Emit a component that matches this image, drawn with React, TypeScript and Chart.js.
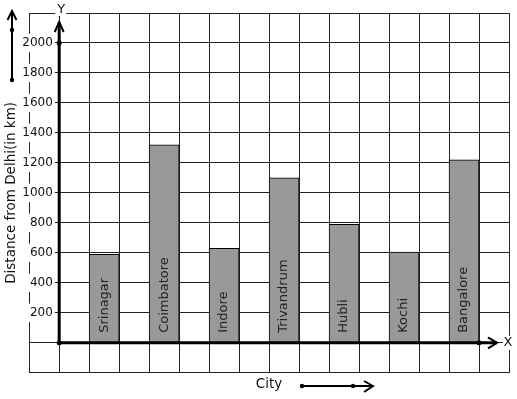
import React, { useEffect, useRef } from 'react';
import { Chart, registerables } from 'chart.js';

Chart.register(...registerables);

const cities = ['Srinagar', 'Coimbatore', 'Indore', 'Trivandrum', 'Hubli', 'Kochi', 'Bangalore'];
const distances = [590, 1320, 630, 1100, 790, 605, 1220];
const yTickLabels = [200, 400, 600, 800, 1000, 1200, 1400, 1600, 1800, 2000];
const yTitle = 'Distance from Delhi(in km)';
const xTitle = 'City';
const yAxisName = 'Y';
const xAxisName = 'X';

const FONT = "'DejaVu Sans', sans-serif";
const INK = '#111';

function dot(ctx: CanvasRenderingContext2D, x: number, y: number, r = 2.5) {
  ctx.beginPath();
  ctx.arc(x, y, r, 0, Math.PI * 2);
  ctx.fill();
}

function chevron(ctx: CanvasRenderingContext2D, pts: number[][]) {
  ctx.beginPath();
  ctx.moveTo(pts[0][0], pts[0][1]);
  ctx.lineTo(pts[1][0], pts[1][1]);
  ctx.lineTo(pts[2][0], pts[2][1]);
  ctx.stroke();
}

export default function App() {
  const ref = useRef<HTMLCanvasElement>(null);

  useEffect(() => {
    const canvas = ref.current;
    if (!canvas) return;

    const decorations = {
      id: 'decorations',
      afterDatasetsDraw(chart: any) {
        const ctx = chart.ctx as CanvasRenderingContext2D;
        const meta = chart.getDatasetMeta(0);
        const y0 = chart.scales.y.getPixelForValue(0);
        ctx.save();
        ctx.fillStyle = '#222';
        ctx.font = `13px ${FONT}`;
        ctx.textAlign = 'left';
        ctx.textBaseline = 'middle';
        meta.data.forEach((bar: any, i: number) => {
          ctx.save();
          ctx.translate(bar.x, y0 - 10);
          ctx.rotate(-Math.PI / 2);
          ctx.fillText(cities[i], 0, 0);
          ctx.restore();
        });
        ctx.restore();
      },
      afterDraw(chart: any) {
        const ctx = chart.ctx as CanvasRenderingContext2D;
        const xs = chart.scales.x;
        const ys = chart.scales.y;
        const ox = xs.getPixelForValue(0);
        const oy = ys.getPixelForValue(0);
        const yTop = ys.getPixelForValue(2140);
        const xEnd = xs.getPixelForValue(14.6);
        ctx.save();
        ctx.strokeStyle = '#000';
        ctx.fillStyle = '#000';
        ctx.lineCap = 'butt';
        // axis lines
        ctx.lineWidth = 3;
        ctx.beginPath();
        ctx.moveTo(ox, oy);
        ctx.lineTo(ox, yTop);
        ctx.moveTo(ox, oy);
        ctx.lineTo(xEnd, oy);
        ctx.stroke();
        ctx.lineWidth = 2;
        chevron(ctx, [[ox - 4.5, yTop + 10], [ox, yTop], [ox + 4.5, yTop + 10]]);
        chevron(ctx, [[xEnd - 9, oy - 5.5], [xEnd, oy], [xEnd - 9, oy + 5.5]]);
        dot(ctx, ox, oy);
        dot(ctx, ox, ys.getPixelForValue(2000));
        dot(ctx, xs.getPixelForValue(14), oy);

        // axis names
        ctx.font = `13px ${FONT}`;
        ctx.textAlign = 'center';
        ctx.textBaseline = 'middle';
        ctx.fillStyle = '#fff';
        ctx.fillRect(ox - 4, 3, 11, 13);
        ctx.fillRect(xEnd + 6, oy - 7, 11, 14);
        ctx.fillStyle = INK;
        ctx.fillText(yAxisName, ox + 2, 10);
        ctx.fillText(xAxisName, xEnd + 11, oy);

        // side arrow (left)
        ctx.strokeStyle = '#000';
        ctx.fillStyle = '#000';
        ctx.lineWidth = 2;
        ctx.beginPath();
        ctx.moveTo(12, 80);
        ctx.lineTo(12, 12);
        ctx.stroke();
        chevron(ctx, [[7.5, 20], [12, 11], [16.5, 20]]);
        dot(ctx, 12, 30, 2.2);
        dot(ctx, 12, 80, 2.2);

        // bottom arrow
        ctx.beginPath();
        ctx.moveTo(302, 386);
        ctx.lineTo(372, 386);
        ctx.stroke();
        chevron(ctx, [[364, 381], [373, 386], [364, 392]]);
        dot(ctx, 302, 386, 2.2);
        dot(ctx, 353, 386, 2.2);
        ctx.restore();
      },
    };

    const chart = new Chart(canvas, {
      type: 'bar',
      data: {
        datasets: [
          {
            data: distances.map((d, i) => ({ x: 1.5 + 2 * i, y: d })),
            xAxisID: 'x',
            yAxisID: 'y',
            backgroundColor: '#999999',
            borderColor: '#000',
            borderWidth: 1,
            barThickness: 30,
          } as any,
        ],
      },
      options: {
        animation: false,
        responsive: false,
        devicePixelRatio: 1,
        layout: { padding: { left: 0, top: 13, right: 8, bottom: 0 } },
        plugins: { legend: { display: false }, tooltip: { enabled: false } },
        scales: {
          x: {
            type: 'linear',
            position: { y: 0 } as any,
            min: -1,
            max: 15,
            offset: false,
            ticks: { display: false, stepSize: 1 },
            grid: { color: '#222', drawTicks: false, offset: false },
            border: { display: false },
          },
          y: {
            type: 'linear',
            // labels sit just left of the x = 0 axis line, leaving room for the tick dash
            position: { x: -0.21 } as any,
            min: -200,
            max: 2200,
            ticks: {
              stepSize: 200,
              padding: 0,
              color: INK,
              font: { family: FONT, size: 12 },
              callback: (v: any) => (yTickLabels.includes(Number(v)) ? String(v) : ''),
              showLabelBackdrop: (c: any) => yTickLabels.includes(Number(c.tick && c.tick.value)),
              backdropColor: '#fff',
              backdropPadding: 2,
            } as any,
            grid: { color: '#222', drawTicks: false },
            border: { display: false },
          },
          yTitle: {
            type: 'linear',
            axis: 'y',
            position: 'left',
            grid: { display: false, drawTicks: false },
            ticks: { display: false },
            border: { display: false },
            title: {
              display: true,
              text: yTitle,
              color: INK,
              font: { family: FONT, size: 13.5 },
              padding: { top: 3, bottom: 10 },
            },
          } as any,
          xTitle: {
            type: 'linear',
            axis: 'x',
            position: 'bottom',
            grid: { display: false, drawTicks: false },
            ticks: { display: false },
            border: { display: false },
            title: {
              display: true,
              text: xTitle,
              color: INK,
              font: { family: FONT, size: 13.5 },
              padding: { top: 4, bottom: 6 },
            },
          } as any,
        },
      },
      plugins: [decorations],
    });

    return () => chart.destroy();
  }, []);

  return (
    <div style={{ position: 'fixed', left: 0, top: 0, width: 517, height: 399, background: '#fff' }}>
      <canvas ref={ref} width={517} height={399} style={{ display: 'block', width: 517, height: 399 }} />
    </div>
  );
}
